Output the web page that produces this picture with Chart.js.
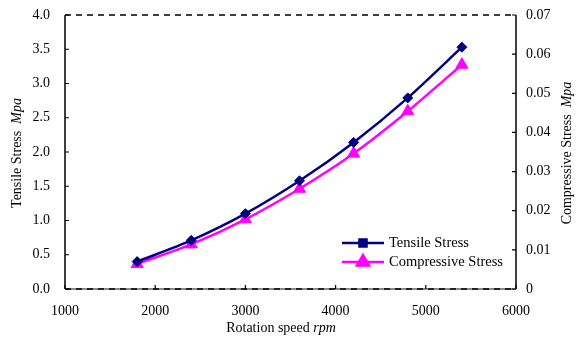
<!DOCTYPE html>
<html>
<head>
<meta charset="utf-8">
<script src="https://cdn.jsdelivr.net/npm/chart.js@4/dist/chart.umd.min.js"></script>
<style>
  html, body { margin: 0; padding: 0; background: #fff; }
  #wrap { width: 580px; height: 344px; }
</style>
</head>
<body>
<div id="wrap"><canvas id="stressChart" width="580" height="344"></canvas></div>
<script>
// rotation speed (rpm)
let speeds = [1800, 2400, 3000, 3600, 4200, 4800, 5400];
// tensile stress, left axis (Mpa)
let tensile = [0.40, 0.71, 1.10, 1.58, 2.14, 2.79, 3.53];
// compressive stress, right axis (Mpa)
let compressive = [0.0064, 0.0114, 0.0178, 0.0256, 0.0346, 0.0454, 0.0573];

let serif = "'Liberation Serif', 'Times New Roman', serif";
let navy = '#000080', magenta = '#FF00FF';

// inward tick marks, dashed top / bottom frame
let framePlugin = {
    id: 'frame',
    afterDatasetsDraw(chart) {
        let ctx = chart.ctx, a = chart.chartArea;
        let s = chart.scales;
        ctx.save();
        ctx.strokeStyle = '#000';
        ctx.lineWidth = 1.5;
        // solid left / right axes
        ctx.beginPath();
        ctx.moveTo(a.left, a.top); ctx.lineTo(a.left, a.bottom);
        ctx.moveTo(a.right, a.top); ctx.lineTo(a.right, a.bottom);
        ctx.stroke();
        // bottom axis
        ctx.strokeStyle = '#666';
        ctx.beginPath();
        ctx.moveTo(a.left, a.bottom); ctx.lineTo(a.right, a.bottom);
        ctx.stroke();
        ctx.strokeStyle = '#000';
        ctx.setLineDash([6, 5]);
        ctx.beginPath();
        ctx.moveTo(a.left, a.bottom); ctx.lineTo(a.right, a.bottom);
        ctx.moveTo(a.left, a.top); ctx.lineTo(a.right, a.top);
        ctx.stroke();
        ctx.setLineDash([]);
        // ticks
        ctx.lineWidth = 1.2;
        ctx.beginPath();
        s.y.ticks.forEach(t => {
            let py = s.y.getPixelForValue(t.value);
            ctx.moveTo(a.left, py); ctx.lineTo(a.left + 4, py);
        });
        s.y1.ticks.forEach(t => {
            let py = s.y1.getPixelForValue(t.value);
            ctx.moveTo(a.right, py); ctx.lineTo(a.right - 4, py);
        });
        s.x.ticks.forEach(t => {
            let px = s.x.getPixelForValue(t.value);
            ctx.moveTo(px, a.bottom); ctx.lineTo(px, a.bottom - 4);
        });
        ctx.stroke();
        ctx.restore();
    }
};

// axis titles with italic units
function mixedText(ctx, parts, x, y) {
    let total = 0;
    parts.forEach(p => { ctx.font = p[1]; total += ctx.measureText(p[0]).width; });
    let cx = x - total / 2;
    parts.forEach(p => {
        ctx.font = p[1];
        ctx.fillText(p[0], cx, y);
        cx += ctx.measureText(p[0]).width;
    });
}

let titlePlugin = {
    id: 'titles',
    afterDraw(chart) {
        let ctx = chart.ctx;
        let reg = '14px ' + serif, ita = 'italic 14px ' + serif;
        ctx.save();
        ctx.fillStyle = '#000';
        ctx.textAlign = 'left';
        ctx.textBaseline = 'middle';
        mixedText(ctx, [['Rotation speed ', reg], ['rpm', ita]], 281, 328);

        ctx.save();
        ctx.translate(17, 153);
        ctx.rotate(-Math.PI / 2);
        mixedText(ctx, [['Tensile Stress  ', reg], ['Mpa', ita]], 0, 0);
        ctx.restore();

        ctx.save();
        ctx.translate(567, 153);
        ctx.rotate(-Math.PI / 2);
        mixedText(ctx, [['Compressive Stress  ', reg], ['Mpa', ita]], 0, 0);
        ctx.restore();
        ctx.restore();
    }
};

// legend: line with marker, Tensile shown with a square
let legendPlugin = {
    id: 'lineLegend',
    afterDraw(chart) {
        let ctx = chart.ctx;
        let rows = [
            { label: chart.data.datasets[0].label, color: navy, style: 'rect', r: 5, y: 243 },
            { label: chart.data.datasets[1].label, color: magenta, style: 'triangle', r: 7, y: 262 }
        ];
        ctx.save();
        rows.forEach(row => {
            ctx.strokeStyle = row.color;
            ctx.lineWidth = 2.5;
            ctx.beginPath();
            ctx.moveTo(342, row.y); ctx.lineTo(384, row.y);
            ctx.stroke();
            ctx.fillStyle = row.color;
            Chart.helpers.drawPoint(ctx, { pointStyle: row.style, radius: row.r, borderWidth: 1 }, 363, row.y);
            ctx.fill();
            ctx.fillStyle = '#000';
            ctx.font = '14.5px ' + serif;
            ctx.textAlign = 'left';
            ctx.textBaseline = 'middle';
            ctx.fillText(row.label, 389, row.y);
        });
        ctx.restore();
    }
};

function fixWidth(w) {
    return function (scale) {
        scale.width = w;
        scale.paddingTop = 0;
        scale.paddingBottom = 0;
    };
}

new Chart(document.getElementById('stressChart'), {
    type: 'line',
    data: {
        datasets: [{
            label: 'Tensile Stress',
            data: speeds.map((s, i) => ({ x: s, y: tensile[i] })),
            yAxisID: 'y',
            borderColor: navy,
            backgroundColor: navy,
            borderWidth: 2.5,
            pointStyle: 'rectRot',
            pointRadius: 5,
            pointBorderWidth: 1,
            tension: 0.25
        }, {
            label: 'Compressive Stress',
            data: speeds.map((s, i) => ({ x: s, y: compressive[i] })),
            yAxisID: 'y1',
            borderColor: magenta,
            backgroundColor: magenta,
            borderWidth: 2.5,
            pointStyle: 'triangle',
            pointRadius: 7,
            pointBorderWidth: 1,
            tension: 0.25
        }]
    },
    options: {
        responsive: false,
        animation: false,
        events: [],
        layout: { padding: { top: 15, left: 0, right: 0, bottom: 0 } },
        plugins: { legend: { display: false }, tooltip: { enabled: false } },
        scales: {
            x: {
                type: 'linear',
                min: 1000, max: 6000,
                grid: { display: false, drawTicks: false },
                border: { display: false },
                ticks: {
                    stepSize: 1000, padding: 14, color: '#000',
                    font: { family: serif, size: 14 },
                    callback: v => String(v)
                },
                afterFit(scale) { scale.height = 55; }
            },
            y: {
                position: 'left',
                min: 0, max: 4,
                grid: { display: false, drawTicks: false },
                border: { display: false },
                ticks: {
                    stepSize: 0.5, padding: 15, color: '#000',
                    font: { family: serif, size: 14 },
                    callback: v => v.toFixed(1)
                },
                afterFit: fixWidth(65)
            },
            y1: {
                position: 'right',
                min: 0, max: 0.07,
                grid: { display: false, drawTicks: false },
                border: { display: false },
                ticks: {
                    stepSize: 0.01, padding: 10, color: '#000',
                    font: { family: serif, size: 14 },
                    callback: v => v === 0 ? '0' : v.toFixed(2)
                },
                afterFit: fixWidth(64)
            }
        }
    },
    plugins: [framePlugin, titlePlugin, legendPlugin]
});
</script>
</body>
</html>
